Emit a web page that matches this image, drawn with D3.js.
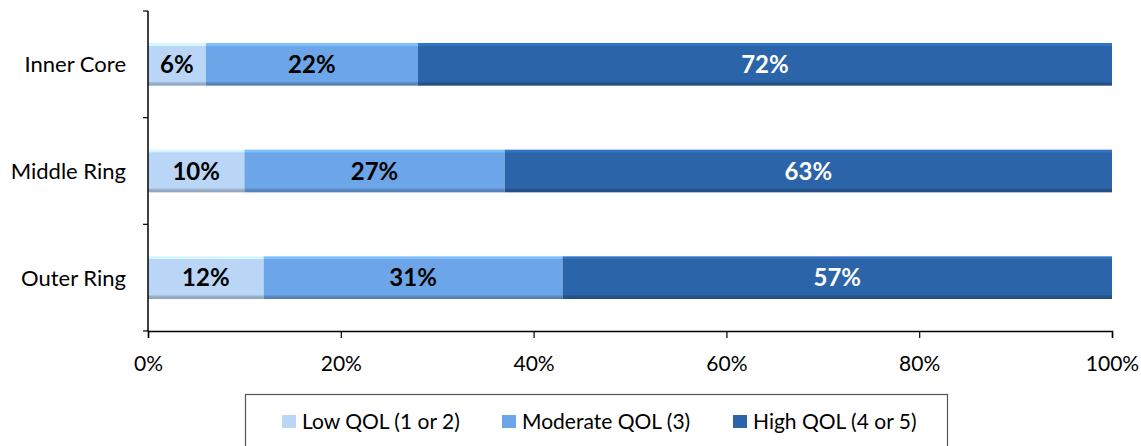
<!DOCTYPE html>
<html><head><meta charset="utf-8">
<script src="https://cdn.jsdelivr.net/npm/d3@7"></script>
<style>body{margin:0;background:#fff}svg{display:block}text{font-family:Lato,"Open Sans",sans-serif}</style>
</head><body>
<svg id="c" width="1141" height="446"></svg>
<script>
const categories = ["Inner Core", "Middle Ring", "Outer Ring"];
const seriesNames = ["Low QOL (1 or 2)", "Moderate QOL (3)", "High QOL (4 or 5)"];
const lowQOL = [6, 10, 12];
const moderateQOL = [22, 27, 31];
const highQOL = [72, 63, 57];
const xTicks = [0, 20, 40, 60, 80, 100];
const colors = ["#BAD6F7", "#6CA6E9", "#2C64AA"];
const labelColors = ["#000", "#000", "#fff"];

const svg = d3.select("#c");
const x = d3.scaleLinear().domain([0, 100]).range([148, 1112]);
const y = d3.scaleBand().domain(categories).range([11, 331]).paddingInner(0.6).paddingOuter(0.3);

const defs = svg.append("defs");
colors.forEach((c, i) => {
  const g = defs.append("linearGradient").attr("id", "g" + i).attr("x1", 0).attr("x2", 0).attr("y1", 0).attr("y2", 1);
  const base = d3.color(c);
  g.append("stop").attr("offset", 0).attr("stop-color", base.brighter(0.4));
  g.append("stop").attr("offset", 0.06).attr("stop-color", base.brighter(0.4));
  g.append("stop").attr("offset", 0.07).attr("stop-color", c);
  g.append("stop").attr("offset", 0.9).attr("stop-color", c);
  g.append("stop").attr("offset", 0.93).attr("stop-color", base.darker(0.5));
  g.append("stop").attr("offset", 1).attr("stop-color", base.darker(0.8));
});

const rows = categories.map((cat, i) => ({cat, low: lowQOL[i], mod: moderateQOL[i], high: highQOL[i]}));
const stacked = d3.stack().keys(["low", "mod", "high"])(rows);

stacked.forEach((s, si) => {
  const gg = svg.append("g");
  gg.selectAll("rect").data(s).join("rect")
    .attr("x", d => x(d[0])).attr("width", d => x(d[1]) - x(d[0]))
    .attr("y", d => y(d.data.cat)).attr("height", y.bandwidth())
    .attr("fill", `url(#g${si})`);
  gg.selectAll("text").data(s).join("text")
    .attr("x", d => (x(d[0]) + x(d[1])) / 2)
    .attr("y", d => y(d.data.cat) + y.bandwidth() / 2)
    .attr("dy", "0.36em").attr("text-anchor", "middle")
    .attr("font-weight", "bold").attr("font-size", 24)
    .attr("fill", labelColors[si])
    .text(d => (d[1] - d[0]) + "%");
});

// Y axis
const yAxisG = svg.append("g").attr("transform", "translate(148,0)");
yAxisG.append("line").attr("x1", 0).attr("x2", 0).attr("y1", 11).attr("y2", 331).attr("stroke", "#000").attr("stroke-width", 1.5);
const bounds = [11].concat(categories.map(c => y(c) + y.bandwidth() + y.step() * y.paddingInner() / 2));
bounds[bounds.length - 1] = 331;
yAxisG.selectAll("line.t").data(bounds).join("line").attr("class", "t")
  .attr("x1", -5).attr("x2", 0).attr("y1", d => d).attr("y2", d => d).attr("stroke", "#000").attr("stroke-width", 1.2);
yAxisG.selectAll("text").data(categories).join("text")
  .attr("x", -22).attr("y", d => y(d) + y.bandwidth() / 2).attr("dy", "0.36em")
  .attr("text-anchor", "end").attr("font-size", 22).attr("fill", "#000").text(d => d);

// X axis
const xAxisG = svg.append("g").attr("transform", "translate(0,331)")
  .call(d3.axisBottom(x).tickValues(xTicks).tickFormat(d => d + "%").tickSize(7).tickPadding(18));
xAxisG.select(".domain").attr("stroke", "#000").attr("stroke-width", 1.5);
xAxisG.selectAll(".tick line").attr("stroke", "#000").attr("stroke-width", 1.2);
xAxisG.selectAll(".tick text").attr("font-size", 21).attr("fill", "#000").attr("font-family", "Lato");

// Legend
const lg = svg.append("g");
lg.append("rect").attr("x", 245.5).attr("y", 394.5).attr("width", 702).attr("height", 60)
  .attr("fill", "#fff").attr("stroke", "#555").attr("stroke-width", 1.2);
const legX = [282, 502, 733];
seriesNames.forEach((n, i) => {
  lg.append("rect").attr("x", legX[i]).attr("y", 415).attr("width", 14).attr("height", 13).attr("fill", colors[i]);
  lg.append("text").attr("x", legX[i] + 20).attr("y", 421.5).attr("dy", "0.36em").attr("font-size", 21).attr("fill", "#000").text(n);
});
</script>
</body></html>
